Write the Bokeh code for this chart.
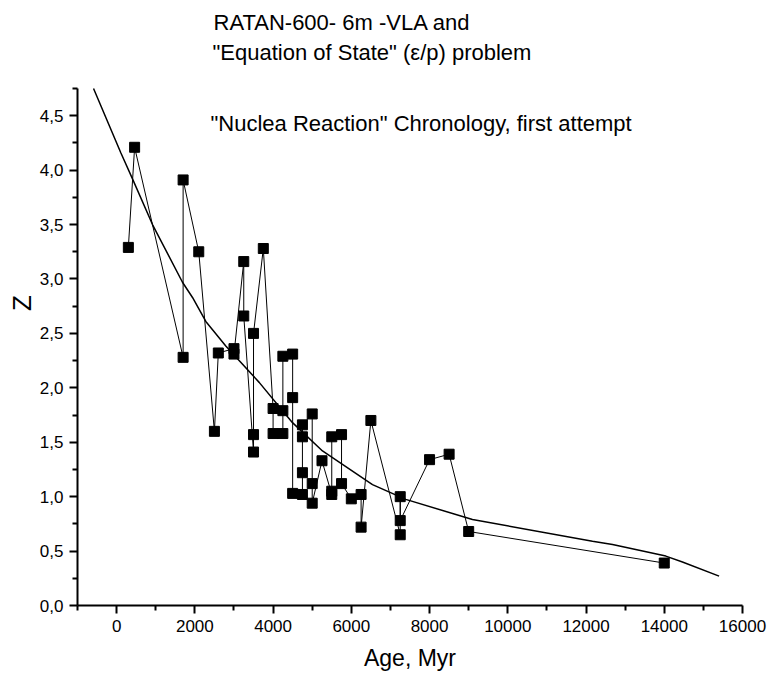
from bokeh.plotting import figure
from bokeh.models import Range1d, FixedTicker, Label
from bokeh.embed import file_html
from bokeh.resources import INLINE

# ---- data ----
age = [300, 460, 1700, 1700, 2100, 2500, 2600, 3000, 3000, 3250, 3250,
       3500, 3500, 3500, 3750, 4000, 4000, 4250, 4250, 4250,
       4500, 4500, 4500, 4750, 4750, 4750, 4750, 5000, 5000, 5000,
       5250, 5500, 5500, 5500, 5750, 5750, 6000, 6250, 6250, 6500,
       7250, 7250, 7250, 8000, 8500, 9000, 14000]
z = [3.29, 4.21, 2.28, 3.91, 3.25, 1.60, 2.32, 2.36, 2.31, 3.16, 2.66,
     1.41, 1.57, 2.50, 3.28, 1.81, 1.58, 1.58, 1.79, 2.29,
     2.31, 1.91, 1.03, 1.02, 1.22, 1.55, 1.66, 1.76, 1.12, 0.94,
     1.33, 1.02, 1.05, 1.55, 1.57, 1.12, 0.98, 1.02, 0.72, 1.70,
     0.65, 1.00, 0.78, 1.34, 1.39, 0.68, 0.39]

fit_age = [-590, 107, 406, 917, 1684, 1940, 2280, 2791, 3644, 4496, 5263,
           6541, 7392, 9097, 12165, 12677, 14040, 14465, 15402]
fit_z = [4.75, 4.16, 3.92, 3.50, 2.97, 2.83, 2.61, 2.385, 2.05, 1.68, 1.42,
         1.11, 0.975, 0.79, 0.59, 0.56, 0.454, 0.40, 0.27]

x_ticks = [0, 2000, 4000, 6000, 8000, 10000, 12000, 14000, 16000]
x_minor = [-1000, 1000, 3000, 5000, 7000, 9000, 11000, 13000, 15000]
y_ticks = [0.0, 0.5, 1.0, 1.5, 2.0, 2.5, 3.0, 3.5, 4.0, 4.5]
y_tick_labels = ["0,0", "0,5", "1,0", "1,5", "2,0", "2,5", "3,0", "3,5", "4,0", "4,5"]
y_minor = [0.25, 0.75, 1.25, 1.75, 2.25, 2.75, 3.25, 3.75, 4.25, 4.75]

title_lines = ["RATAN-600- 6m -VLA and",
               "\"Equation of State\" (\u03b5/p) problem",
               "\"Nuclea Reaction\" Chronology, first attempt"]
title_x = [2477, 2451, 2400]
title_y = [5.36, 5.08, 4.424]

FONT = "Liberation Sans"

# axes span 0..4.75 (Z) and -1000..16000 (Age); the frame reaches the top of the
# canvas so that the heading lines can sit above the axis end
p = figure(width=769, height=673, output_backend="svg", toolbar_location=None,
           x_range=Range1d(-1000, 16000), y_range=Range1d(0, 5.5586),
           min_border_left=77, min_border_right=27, min_border_top=0,
           min_border_bottom=68, outline_line_color=None)

p.xgrid.visible = False
p.ygrid.visible = False

p.line(fit_age, fit_z, line_color="black", line_width=1.5)
p.line(age, z, line_color="black", line_width=1)
p.scatter(age, z, marker="square", size=10, fill_color="black", line_color="black")

p.xaxis.ticker = FixedTicker(ticks=x_ticks, minor_ticks=x_minor)
p.yaxis.ticker = FixedTicker(ticks=y_ticks, minor_ticks=y_minor)
p.yaxis.major_label_overrides = {t: l for t, l in zip(y_ticks, y_tick_labels)}
p.yaxis.bounds = (0, 4.75)

for ax in (p.xaxis[0], p.yaxis[0]):
    ax.axis_line_width = 2
    ax.major_tick_line_width = 2
    ax.minor_tick_line_width = 2
    ax.major_tick_in = 0
    ax.major_tick_out = 8
    ax.minor_tick_in = 0
    ax.minor_tick_out = 5
    ax.major_label_text_font = FONT
    ax.major_label_text_font_size = "17px"
    ax.major_label_text_color = "black"
    ax.axis_label_text_font = FONT
    ax.axis_label_text_font_style = "normal"
    ax.axis_label_text_color = "black"

p.xaxis.axis_label = "Age, Myr"
p.xaxis.axis_label_text_font_size = "23px"
p.xaxis.major_label_standoff = 6
p.xaxis.axis_label_standoff = 10
p.yaxis.axis_label = "Z"
p.yaxis.axis_label_text_font_size = "26px"
p.yaxis.major_label_standoff = 6
p.yaxis.axis_label_standoff = 0

for txt, tx, ty in zip(title_lines, title_x, title_y):
    p.add_layout(Label(x=tx, y=ty, text=txt, text_font=FONT, text_font_size="22px",
                       text_baseline="alphabetic", text_align="left", text_color="black"))

open("out.html", "w").write(file_html(p, INLINE))
